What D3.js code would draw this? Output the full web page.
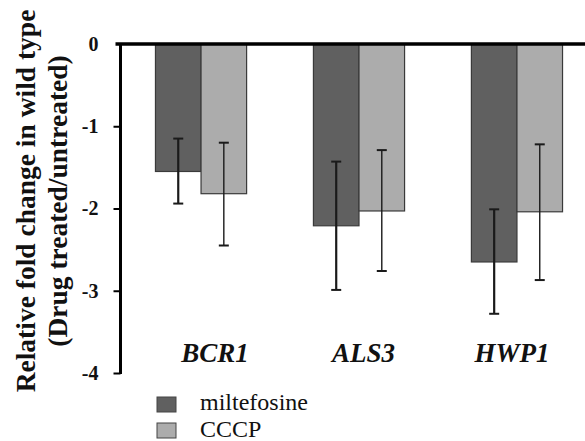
<!DOCTYPE html>
<html><head><meta charset="utf-8">
<script src="https://cdn.jsdelivr.net/npm/d3@7"></script>
<style>html,body{margin:0;padding:0;background:#fff;overflow:hidden}
text{font-family:'Liberation Serif','Times New Roman',serif}</style>
</head><body><svg id="c" width="585" height="441"></svg>
<script>
const categories = ["BCR1", "ALS3", "HWP1"];
const seriesNames = ["miltefosine", "CCCP"];
const miltefosine = [-1.55, -2.21, -2.65];
const miltefosineErrLow = [-1.94, -2.99, -3.28];
const miltefosineErrHigh = [-1.15, -1.43, -2.01];
const cccp = [-1.82, -2.03, -2.04];
const cccpErrLow = [-2.45, -2.76, -2.87];
const cccpErrHigh = [-1.20, -1.29, -1.22];
const yTicks = [0, -1, -2, -3, -4];
const yTitle = ["Relative fold change in wild type", "(Drug treated/untreated)"];

const colors = ["#606060", "#acacac"];
const FONT = "'Liberation Serif', 'Times New Roman', serif";
const svg = d3.select("#c");
const axisX = 120.5;
const y = d3.scaleLinear().domain([0, -4]).range([44, 373]);
const x0 = d3.scaleBand().domain(categories).range([121.5, 121.5 + 475]).paddingInner(0.423).paddingOuter(0.215);
const x1 = d3.scaleBand().domain(seriesNames).range([0, x0.bandwidth()]);
const xLabel = d3.scalePoint().domain(categories).range([215, 512]);

const series = [
  {name: "miltefosine", vals: miltefosine, lo: miltefosineErrLow, hi: miltefosineErrHigh, color: colors[0], ew: 2.2},
  {name: "CCCP", vals: cccp, lo: cccpErrLow, hi: cccpErrHigh, color: colors[1], ew: 1.4}
];

// bars
series.forEach(s => {
  svg.append("g").selectAll("rect").data(categories).join("rect")
    .attr("x", d => x0(d) + x1(s.name))
    .attr("y", y(0))
    .attr("width", x1.bandwidth())
    .attr("height", (d, i) => y(s.vals[i]) - y(0))
    .attr("fill", s.color)
    .attr("stroke", "#3a3a3a")
    .attr("stroke-width", 1.2);
});
// error bars
series.forEach(s => {
  const g = svg.append("g").attr("stroke", "#1a1a1a");
  categories.forEach((c, i) => {
    const cx = x0(c) + x1(s.name) + x1.bandwidth() / 2;
    g.append("line").attr("x1", cx).attr("x2", cx).attr("y1", y(s.hi[i])).attr("y2", y(s.lo[i])).attr("stroke-width", s.ew);
    [s.hi[i], s.lo[i]].forEach(v => {
      g.append("line").attr("x1", cx - 5).attr("x2", cx + 5).attr("y1", y(v)).attr("y2", y(v)).attr("stroke-width", 2);
    });
  });
});

// y axis
const yAxis = d3.axisLeft(y).tickValues(yTicks).tickFormat(d => String(d)).tickSize(7).tickPadding(15);
const ga = svg.append("g").attr("transform", `translate(${axisX},0)`).call(yAxis);
ga.attr("font-family", FONT);
ga.select(".domain").attr("stroke", "#000").attr("stroke-width", 3).attr("d", `M0,${y(0)}V${y(-4)+1}`);
ga.selectAll(".tick line").attr("stroke", "#000").attr("stroke-width", 2);
ga.selectAll(".tick text").attr("font-family", FONT)
  .attr("font-weight", "bold").attr("font-size", 20).attr("fill", "#111");
ga.selectAll(".tick").filter(d => d === 0).select("line").remove();

// zero line
svg.append("line").attr("x1", axisX - 5).attr("x2", 585).attr("y1", y(0)).attr("y2", y(0))
  .attr("stroke", "#000").attr("stroke-width", 3.5);

// category labels
svg.append("g").selectAll("text").data(categories).join("text")
  .attr("x", d => xLabel(d))
  .attr("y", 362)
  .attr("text-anchor", "middle")
  .attr("font-family", FONT)
  .attr("font-weight", "bold").attr("font-style", "italic").attr("font-size", 27).attr("fill", "#111")
  .text(d => d);

// y title
const tg = svg.append("g").attr("font-family", FONT)
  .attr("font-weight", "bold").attr("font-size", 27.5).attr("fill", "#111").attr("text-anchor", "middle");
tg.append("text").attr("transform", "translate(35,201) rotate(-90)").text(yTitle[0]);
tg.append("text").attr("transform", "translate(67,201) rotate(-90)").text(yTitle[1]);

// legend
const lg = svg.append("g");
series.forEach((s, i) => {
  lg.append("rect").attr("x", 157).attr("y", 397 + i * 26).attr("width", 19).attr("height", 15)
    .attr("fill", s.color).attr("stroke", "#444").attr("stroke-width", 1);
  lg.append("text").attr("x", 200).attr("y", 410 + i * 27)
    .attr("font-family", FONT).attr("font-size", 24).attr("fill", "#111")
    .text(s.name);
});
</script></body></html>
